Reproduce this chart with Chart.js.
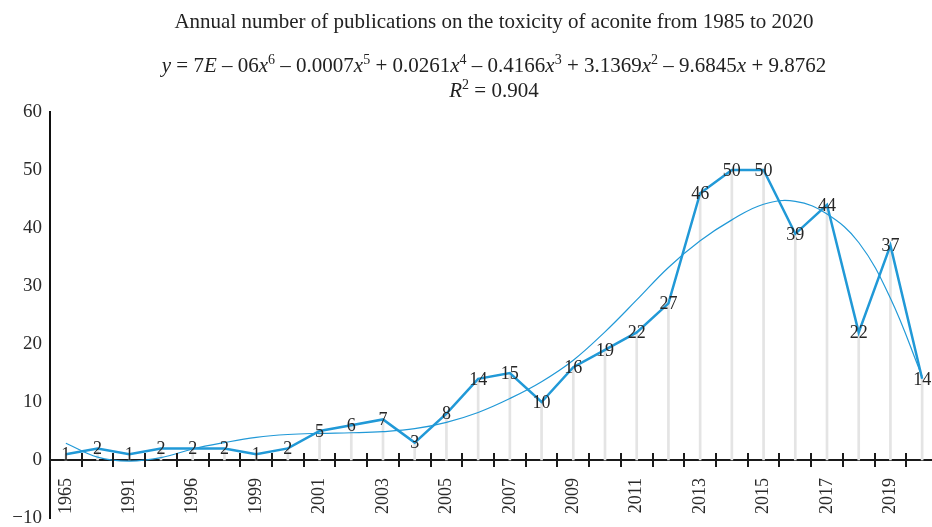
<!DOCTYPE html>
<html>
<head>
<meta charset="utf-8">
<script src="https://cdn.jsdelivr.net/npm/chart.js@4/dist/chart.umd.min.js"></script>
<style>
  html, body { margin: 0; padding: 0; background: #fff; overflow: hidden; }
  #wrap { width: 940px; height: 527px; }
</style>
</head>
<body>
<div id="wrap"><canvas id="pubs"></canvas></div>
<script>
// categories (only every other one is labelled in the figure)
const years = ['1965', '1987', '1991', '1993', '1996', '1998', '1999', '2000',
  '2001', '2002', '2003', '2004', '2005', '2006', '2007', '2008', '2009', '2010',
  '2011', '2012', '2013', '2014', '2015', '2016', '2017', '2018', '2019', '2020'];
// publications per year
const counts = [1, 2, 1, 2, 2, 2, 1, 2, 5, 6, 7, 3, 8, 14, 15, 10, 16, 19, 22, 27,
  46, 50, 50, 39, 44, 22, 37, 14];
// 6th order trend line
const trend = [2.9, 0.5, -0.2, 0.4, 1.9, 3.0, 3.9, 4.4, 4.6, 4.7, 4.9, 5.4, 6.5, 8.2,
  10.6, 13.5, 17.2, 22.1, 27.6, 33.2, 37.8, 41.4, 44.1, 44.6, 42.4, 37.5, 27.9, 14.4];
const yMin = -10, yMax = 60, yStep = 10;

const titleText = 'Annual number of publications on the toxicity of aconite from 1985 to 2020';
const equation = [
  {t: 'y', i: 1}, {t: ' = 7'}, {t: 'E', i: 1}, {t: ' \u2013 06'}, {t: 'x', i: 1}, {t: '6', s: 1},
  {t: ' \u2013 0.0007'}, {t: 'x', i: 1}, {t: '5', s: 1},
  {t: ' + 0.0261'}, {t: 'x', i: 1}, {t: '4', s: 1},
  {t: ' \u2013 0.4166'}, {t: 'x', i: 1}, {t: '3', s: 1},
  {t: ' + 3.1369'}, {t: 'x', i: 1}, {t: '2', s: 1},
  {t: ' \u2013 9.6845'}, {t: 'x', i: 1}, {t: ' + 9.8762'}
];
const rSquared = [{t: 'R', i: 1}, {t: '2', s: 1}, {t: ' = 0.904'}];

const SERIF = '"Liberation Serif", "Times New Roman", serif';
const BLUE = '#2199d7';
const INK = '#262626';

function drawRich(ctx, parts, cx, y, size) {
  const fontOf = p => (p.i ? 'italic ' : '') + (p.s ? Math.round(size * 0.66) : size) + 'px ' + SERIF;
  const widths = parts.map(p => { ctx.font = fontOf(p); return ctx.measureText(p.t).width; });
  let x = cx - widths.reduce((a, b) => a + b, 0) / 2;
  parts.forEach((p, k) => {
    ctx.font = fontOf(p);
    ctx.fillText(p.t, x, p.s ? y - size * 0.4 : y);
    x += widths[k];
  });
}

const decorations = {
  id: 'decorations',
  afterDraw(chart) {
    const {ctx, chartArea, scales: {x, y}} = chart;
    const y0 = y.getPixelForValue(0);
    const half = (x.getPixelForValue(1) - x.getPixelForValue(0)) / 2;
    ctx.save();
    // tick marks crossing the x axis, between categories
    ctx.strokeStyle = '#1a1a1a';
    ctx.lineWidth = 2;
    for (let k = 0; k <= years.length; k++) {
      const px = Math.round(x.getPixelForValue(k) - half);
      ctx.beginPath();
      ctx.moveTo(px, y0 - 7);
      ctx.lineTo(px, y0 + 7);
      ctx.stroke();
    }
    // value labels centred on the points
    const meta = chart.getDatasetMeta(2);
    ctx.fillStyle = INK;
    ctx.font = '18px ' + SERIF;
    ctx.textAlign = 'center';
    ctx.textBaseline = 'middle';
    meta.data.forEach((pt, k) => ctx.fillText(String(counts[k]), pt.x, pt.y + 1));
    // titles
    const cx = (chartArea.left + chartArea.right) / 2;
    ctx.textBaseline = 'alphabetic';
    ctx.fillStyle = '#222';
    ctx.font = '21px ' + SERIF;
    ctx.textAlign = 'center';
    ctx.fillText(titleText, cx, 28);
    ctx.textAlign = 'left';
    drawRich(ctx, equation, cx, 72, 21);
    drawRich(ctx, rSquared, cx, 97, 21);
    ctx.restore();
  }
};

new Chart(document.getElementById('pubs'), {
  type: 'bar',
  data: {
    labels: years,
    datasets: [
      {
        type: 'bar',
        data: counts,
        backgroundColor: '#e4e4e4',
        barThickness: 2,
        order: 3
      },
      {
        type: 'line',
        data: trend,
        borderColor: BLUE,
        borderWidth: 1.2,
        pointRadius: 0,
        tension: 0.4,
        fill: false,
        order: 2
      },
      {
        type: 'line',
        data: counts,
        borderColor: BLUE,
        borderWidth: 2.5,
        pointRadius: 0,
        tension: 0,
        fill: false,
        order: 1
      }
    ]
  },
  options: {
    responsive: true,
    maintainAspectRatio: false,
    animation: false,
    layout: { padding: { top: 112, bottom: 9, left: 0, right: 2 } },
    plugins: {
      legend: { display: false },
      tooltip: { enabled: false }
    },
    scales: {
      x: {
        position: { y: 0 },
        offset: true,
        grid: { display: false, drawTicks: false, offset: true },
        border: { display: true, color: '#1a1a1a', width: 2 },
        afterFit: s => { s.paddingLeft = 0; s.paddingRight = 0; },
        ticks: {
          autoSkip: false,
          minRotation: 90,
          maxRotation: 90,
          padding: 18,
          color: '#2a2a2a',
          font: { family: SERIF, size: 18 },
          callback: (v, k) => (k % 2 === 0 ? years[k] : '')
        }
      },
      y: {
        min: yMin,
        max: yMax,
        grid: { display: false, drawTicks: false },
        border: { display: true, color: '#111', width: 2 },
        afterFit: s => { s.width = 50; s.paddingTop = 0; s.paddingBottom = 0; },
        ticks: {
          stepSize: yStep,
          padding: 8,
          color: '#2a2a2a',
          font: { family: SERIF, size: 19 },
          callback: v => (v < 0 ? '\u2212' + Math.abs(v) : String(v))
        }
      }
    }
  },
  plugins: [decorations]
});
</script>
</body>
</html>
